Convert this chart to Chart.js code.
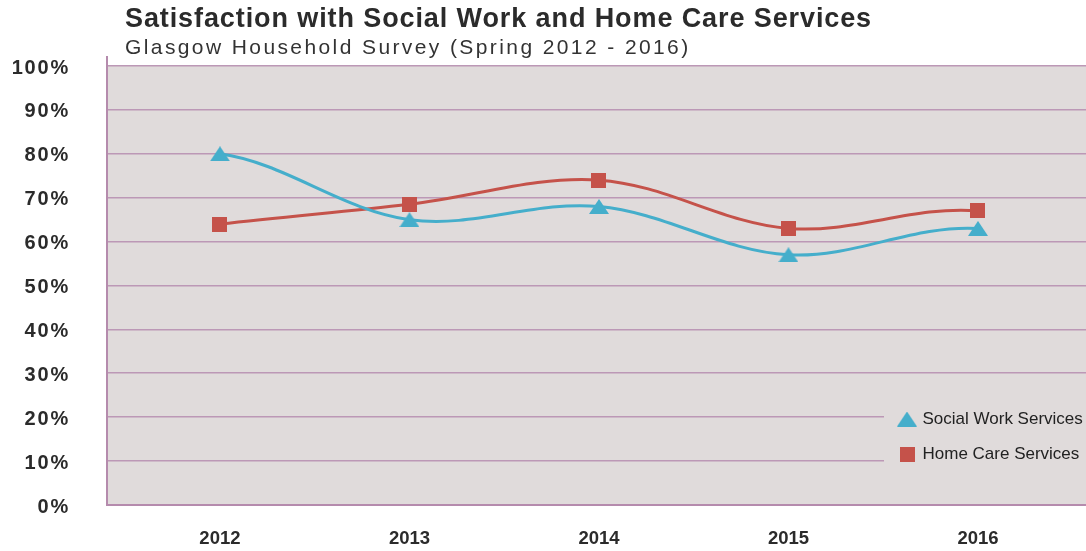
<!DOCTYPE html>
<html>
<head>
<meta charset="utf-8">
<title>Satisfaction with Social Work and Home Care Services</title>
<script src="https://cdn.jsdelivr.net/npm/chart.js@4.4.0/dist/chart.umd.min.js"></script>
<style>
  html, body { margin: 0; padding: 0; background: #ffffff; }
  canvas { display: block; }
</style>
</head>
<body>
<canvas id="chart" width="1086" height="551"></canvas>
<script>
// ---- data ----
const chartTitle = 'Satisfaction with Social Work and Home Care Services';
const chartSubtitle = 'Glasgow Household Survey (Spring 2012 - 2016)';
const years = ['2012', '2013', '2014', '2015', '2016'];
const seriesNames = ['Social Work Services', 'Home Care Services'];
const socialWork = [80, 65, 68, 57, 63];
const homeCare = [64, 68.5, 74, 63, 67];
const percentTicks = [0, 10, 20, 30, 40, 50, 60, 70, 80, 90, 100];

// ---- styling ----
const BLUE = '#45AECB';
const RED = '#C5524A';
const PLOT_BG = '#E0DBDB';
const GRID = '#BC98B6';
const AXIS = '#B58BAD';
const INK = '#2b2b2b';
const FONT = "'Liberation Sans', Arial, Helvetica, sans-serif";
const SMOOTHING = 0.35;

// marker shapes used for both the series points and the legend
function triangleMarker(color) {
  const c = document.createElement('canvas');
  c.width = 20; c.height = 15;
  const g = c.getContext('2d');
  g.fillStyle = color;
  g.beginPath();
  g.moveTo(0, 15); g.lineTo(10, 0); g.lineTo(20, 15);
  g.closePath();
  g.fill();
  return c;
}
function squareMarker(color) {
  const c = document.createElement('canvas');
  c.width = 15; c.height = 15;
  const g = c.getContext('2d');
  g.fillStyle = color;
  g.fillRect(0, 0, 15, 15);
  return c;
}

// shaded plot panel between 0% and 100%
const plotBackground = {
  id: 'plotBackground',
  beforeDraw(chart) {
    const { ctx, chartArea: a, scales: { y } } = chart;
    const top = y.getPixelForValue(percentTicks[percentTicks.length - 1]);
    const bottom = y.getPixelForValue(percentTicks[0]);
    ctx.save();
    ctx.fillStyle = PLOT_BG;
    ctx.fillRect(a.left, top, a.right - a.left, bottom - top);
    ctx.restore();
  }
};

// heading and sub-heading above the plot
const headings = {
  id: 'headings',
  afterDraw(chart) {
    const ctx = chart.ctx;
    ctx.save();
    ctx.textAlign = 'left';
    ctx.textBaseline = 'alphabetic';
    ctx.fillStyle = INK;
    ctx.font = `bold 27px ${FONT}`;
    ctx.letterSpacing = '0.9px';
    ctx.fillText(chartTitle, 125, 26.5);
    ctx.fillStyle = '#333333';
    ctx.font = `21px ${FONT}`;
    ctx.letterSpacing = '2.4px';
    ctx.fillText(chartSubtitle, 125, 53.5);
    ctx.restore();
  }
};

// end segments of each curve leave/arrive parallel to the neighbouring
// point's tangent instead of along the chord
const smoothEnds = {
  id: 'smoothEnds',
  beforeDatasetDraw(chart, args) {
    const meta = args.meta;
    const line = meta.dataset;
    const pts = meta.data;
    if (!line || pts.length < 3) return;
    line.updateControlPoints(chart.chartArea, meta.iScale.axis);
    const slopeAt = (p) => (p.cp2y - p.cp1y) / ((p.cp2x - p.cp1x) || 1);
    const a = pts[0], b = pts[1];
    const dxA = SMOOTHING * (b.x - a.x);
    a.cp2x = a.x + dxA;
    a.cp2y = a.y + slopeAt(b) * dxA;
    const z = pts[pts.length - 1], w = pts[pts.length - 2];
    const dxZ = SMOOTHING * (z.x - w.x);
    z.cp1x = z.x - dxZ;
    z.cp1y = z.y - slopeAt(w) * dxZ;
    line._path = undefined;
  }
};

// legend placed inside the panel, bottom right, on its own backing box;
// percentage labels drawn with wider tracking
const layoutTweaks = {
  id: 'layoutTweaks',
  afterUpdate(chart) {
    const lg = chart.legend;
    if (lg) {
      lg.fit();
      lg.left = 882;
      lg.top = 392.5;
      lg.right = chart.width;
      lg.width = lg.right - lg.left;
      lg.bottom = lg.top + lg.height;
      lg.adjustHitBoxes();
      if (!lg._withBacking) {
        const drawLegend = lg.draw.bind(lg);
        lg.draw = function (area) {
          const ctx = this.ctx;
          ctx.save();
          ctx.fillStyle = PLOT_BG;
          ctx.fillRect(884, 392, chart.width - 884, 92);
          ctx.restore();
          drawLegend(area);
        };
        lg._withBacking = true;
      }
    }
    const ys = chart.scales.y;
    if (ys && !ys._tracked) {
      const drawLabels = ys.drawLabels.bind(ys);
      ys.drawLabels = function (area) {
        this.ctx.save();
        this.ctx.letterSpacing = '1.8px';
        drawLabels(area);
        this.ctx.restore();
      };
      ys._tracked = true;
    }
  }
};

const firstYear = Number(years[0]);
const lastYear = Number(years[years.length - 1]);

new Chart(document.getElementById('chart'), {
  type: 'line',
  data: {
    labels: years,
    datasets: [
      {
        label: seriesNames[0],
        data: socialWork,
        borderColor: BLUE,
        backgroundColor: BLUE,
        borderWidth: 3,
        pointStyle: triangleMarker(BLUE),
        pointRadius: 8,
        pointBorderWidth: 0,
        tension: SMOOTHING,
        fill: false
      },
      {
        label: seriesNames[1],
        data: homeCare,
        borderColor: RED,
        backgroundColor: RED,
        borderWidth: 3,
        pointStyle: squareMarker(RED),
        pointRadius: 8,
        pointBorderWidth: 0,
        tension: SMOOTHING,
        fill: false
      }
    ]
  },
  options: {
    responsive: false,
    animation: false,
    devicePixelRatio: 1,
    layout: { autoPadding: false, padding: { top: 57, left: 0, right: 0, bottom: 0 } },
    plugins: {
      title: { display: false },
      tooltip: { enabled: false },
      legend: {
        position: 'chartArea',
        fullSize: false,
        align: 'start',
        labels: {
          usePointStyle: true,
          pointStyleWidth: 14,
          padding: 18,
          color: '#222222',
          font: { family: FONT, size: 17 }
        }
      }
    },
    scales: {
      x: {
        type: 'linear',
        min: firstYear - 0.596,
        max: lastYear + 0.57,
        afterBuildTicks: (s) => { s.ticks = years.map((y) => ({ value: Number(y) })); },
        afterFit: (s) => { s.height = 46; s.paddingLeft = 0; s.paddingRight = 0; },
        grid: { display: false, drawTicks: false },
        border: { display: true, color: AXIS, width: 2 },
        ticks: {
          autoSkip: false,
          maxRotation: 0,
          padding: 23,
          color: INK,
          font: { family: FONT, size: 18.5, weight: 'bold' },
          callback: (v, i) => years[i]
        }
      },
      y: {
        min: 0,
        max: 102.05,
        afterBuildTicks: (s) => { s.ticks = percentTicks.map((v) => ({ value: v })); },
        afterFit: (s) => { s.width = 107; s.paddingTop = 0; s.paddingBottom = 0; },
        grid: { color: GRID, lineWidth: 1.6, drawTicks: false },
        border: { display: true, color: AXIS, width: 2 },
        ticks: {
          padding: 37,
          labelOffset: 2,
          color: INK,
          font: { family: FONT, size: 20, weight: 'bold' },
          callback: (v) => v + '%'
        }
      }
    }
  },
  plugins: [plotBackground, headings, smoothEnds, layoutTweaks]
});
</script>
</body>
</html>
